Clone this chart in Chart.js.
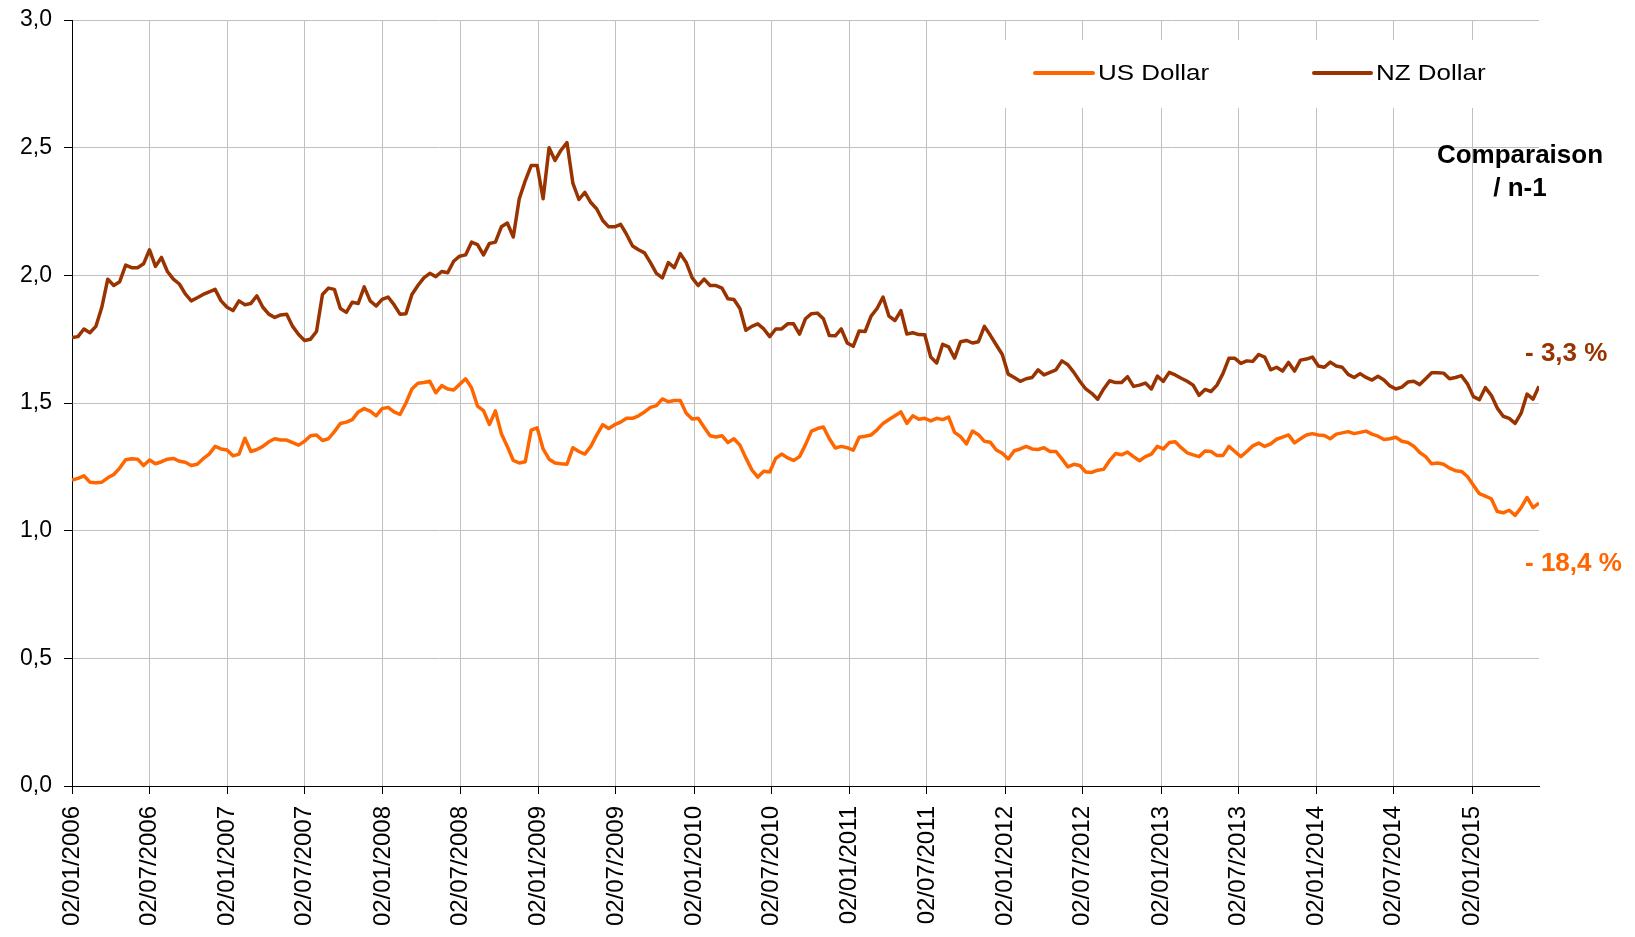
<!DOCTYPE html>
<html>
<head>
<meta charset="utf-8">
<script src="https://cdn.jsdelivr.net/npm/chart.js@4.4.1/dist/chart.umd.min.js"></script>
<style>
  html, body { margin: 0; padding: 0; background: #ffffff; }
  #wrap { width: 1635px; height: 937px; }
</style>
</head>
<body>
<div id="wrap"><canvas id="c" width="1635" height="937"></canvas></div>
<script>
// ---- categories (dates) ----
const startDate = '02/01/2006';     // first observation (dd/mm/yyyy)
const stepDays = 14;                // spacing between observations

// ---- x tick labels ----
const tickLabels = [
  '02/01/2006','02/07/2006','02/01/2007','02/07/2007','02/01/2008','02/07/2008',
  '02/01/2009','02/07/2009','02/01/2010','02/07/2010','02/01/2011','02/07/2011',
  '02/01/2012','02/07/2012','02/01/2013','02/07/2013','02/01/2014','02/07/2014',
  '02/01/2015'
];

// ---- y tick values ----
const yTicks = [0, 0.5, 1.0, 1.5, 2.0, 2.5, 3.0];

// ---- series ----
const usDollar = [
  1.198, 1.205, 1.215, 1.19, 1.188, 1.19, 1.207, 1.22, 1.245, 1.278,
  1.282, 1.28, 1.255, 1.277, 1.262, 1.27, 1.28, 1.283, 1.272, 1.268,
  1.255, 1.26, 1.282, 1.30, 1.33, 1.32, 1.316, 1.293, 1.30, 1.362,
  1.31, 1.318, 1.33, 1.348, 1.36, 1.355, 1.355, 1.345, 1.335, 1.35,
  1.372, 1.375, 1.353, 1.36, 1.388, 1.42, 1.425, 1.435, 1.465, 1.478,
  1.468, 1.45,
  1.478, 1.483, 1.465, 1.455, 1.50, 1.555, 1.577, 1.58, 1.585, 1.54,
  1.568, 1.555, 1.551, 1.573, 1.595, 1.56, 1.488, 1.47, 1.416, 1.469,
  1.38, 1.33, 1.275, 1.265, 1.27, 1.394, 1.403, 1.32, 1.28, 1.265,
  1.262, 1.26, 1.325, 1.31, 1.30, 1.33, 1.375, 1.415, 1.40, 1.415,
  1.425, 1.44, 1.44, 1.45, 1.465, 1.483, 1.49, 1.516, 1.505, 1.51,
  1.51, 1.46, 1.437, 1.44, 1.405, 1.372, 1.367, 1.372, 1.345, 1.36,
  1.335, 1.285, 1.238, 1.21, 1.233, 1.23, 1.283, 1.30, 1.285, 1.275,
  1.29, 1.337, 1.39, 1.40, 1.406, 1.36, 1.324, 1.33, 1.325, 1.315,
  1.366, 1.37, 1.375, 1.395, 1.42, 1.435, 1.45, 1.465, 1.42, 1.45,
  1.436, 1.44, 1.43, 1.44, 1.435, 1.445, 1.385, 1.368, 1.34, 1.39,
  1.376, 1.35, 1.346, 1.316, 1.303, 1.281, 1.313, 1.32, 1.33, 1.32,
  1.318, 1.325, 1.31, 1.31, 1.281, 1.25, 1.26, 1.255, 1.23, 1.228,
  1.237, 1.24, 1.275, 1.302, 1.297, 1.308, 1.29, 1.274, 1.29, 1.30,
  1.33, 1.32, 1.345, 1.348, 1.325, 1.305, 1.297, 1.29, 1.312, 1.31,
  1.294, 1.294, 1.33, 1.31, 1.29, 1.31, 1.332, 1.343, 1.33, 1.34,
  1.358,
  1.366, 1.375, 1.344, 1.36, 1.375, 1.38, 1.375, 1.373, 1.36, 1.378,
  1.383, 1.388, 1.38, 1.385, 1.39, 1.378, 1.37, 1.357, 1.36, 1.366,
  1.35, 1.345, 1.331, 1.306, 1.29, 1.262, 1.265, 1.26, 1.245, 1.235,
  1.232, 1.212, 1.178, 1.145, 1.135, 1.125, 1.075, 1.07, 1.08, 1.06,
  1.09, 1.13, 1.09, 1.108
];

const nzDollar = [
  1.756, 1.76, 1.79, 1.775, 1.80, 1.875, 1.985, 1.96, 1.975, 2.04,
  2.03, 2.03, 2.045, 2.10, 2.035, 2.07, 2.015, 1.985, 1.966, 1.927,
  1.90, 1.912, 1.925, 1.935, 1.945, 1.90, 1.875, 1.862, 1.90, 1.885,
  1.89, 1.92, 1.875, 1.848, 1.835, 1.845, 1.848, 1.80, 1.768, 1.745,
  1.75, 1.78, 1.925, 1.95, 1.945, 1.87, 1.855, 1.895, 1.89, 1.955,
  1.90, 1.88,
  1.906, 1.915, 1.885, 1.848, 1.85, 1.925, 1.96, 1.99, 2.008, 1.995,
  2.015, 2.01, 2.055, 2.075, 2.08, 2.13, 2.12, 2.08, 2.125, 2.13,
  2.19, 2.205, 2.15, 2.30, 2.37, 2.43, 2.43, 2.30, 2.50, 2.45,
  2.49, 2.52, 2.36, 2.297, 2.325, 2.285, 2.26, 2.215, 2.19, 2.19,
  2.20, 2.16, 2.115, 2.10, 2.088, 2.05, 2.008, 1.99, 2.05, 2.03,
  2.085, 2.05, 1.99, 1.96, 1.985, 1.96, 1.96, 1.95, 1.908, 1.905,
  1.87, 1.785, 1.80, 1.81, 1.79, 1.76, 1.79, 1.79, 1.81, 1.81,
  1.77, 1.83, 1.85, 1.852, 1.83, 1.764, 1.763, 1.79, 1.735, 1.722,
  1.782, 1.78, 1.84, 1.87, 1.915, 1.84, 1.823, 1.862, 1.77, 1.775,
  1.768, 1.767, 1.68, 1.657, 1.73, 1.72, 1.676, 1.74, 1.745, 1.735,
  1.74, 1.80, 1.765, 1.727, 1.69, 1.613, 1.60, 1.585, 1.595, 1.60,
  1.63, 1.61, 1.62, 1.63, 1.665, 1.65, 1.62, 1.585, 1.555, 1.538,
  1.515, 1.555, 1.587, 1.58, 1.58, 1.603, 1.565, 1.57, 1.578, 1.555,
  1.605, 1.585, 1.62, 1.61, 1.597, 1.585, 1.57, 1.53, 1.553, 1.545,
  1.57, 1.615, 1.675, 1.675, 1.655, 1.665, 1.663, 1.69, 1.68, 1.63,
  1.64,
  1.625, 1.659, 1.625, 1.668, 1.672, 1.68, 1.645, 1.64, 1.66, 1.645,
  1.64, 1.612, 1.60, 1.615, 1.60, 1.59, 1.605, 1.59, 1.567, 1.555,
  1.562, 1.582, 1.585, 1.572, 1.595, 1.618, 1.618, 1.617, 1.595, 1.60,
  1.607, 1.575, 1.525, 1.513, 1.56, 1.53, 1.48, 1.448, 1.44, 1.42,
  1.46, 1.535, 1.515, 1.566
];

// ---- annotation texts ----
const seriesNames = ['US Dollar', 'NZ Dollar'];
const seriesColors = ['#FF6600', '#993300'];
const comparisonTitle = ['Comparaison', '/ n-1'];
const comparisonValues = ['- 18,4 %', '- 3,3 %'];

// ---- helpers ----
function parseDay(label) {
  const p = label.split('/').map(Number);
  return Date.UTC(p[2], p[1] - 1, p[0]);
}
const t0 = parseDay(startDate);
function dayOffset(label) { return (parseDay(label) - t0) / 86400000; }
const tickDays = tickLabels.map(dayOffset);
function toPoints(arr) { return arr.map((v, i) => ({ x: i * stepDays, y: v })); }
const lastDay = (usDollar.length - 1) * stepDays;

const decorPlugin = {
  id: 'decor',
  beforeDatasetsDraw(chart) {
    const ctx = chart.ctx, ca = chart.chartArea;
    ctx.save();
    ctx.fillStyle = '#ffffff';
    ctx.fillRect(985, 40, ca.right - 985 + 1, 68);
    ctx.restore();
  },
  afterDraw(chart) {
    const ctx = chart.ctx;
    ctx.save();
    // legend
    const items = [
      { x0: 1035, x1: 1093, tx: 1098 },
      { x0: 1314, x1: 1371, tx: 1376 }
    ];
    const ly = 73;
    items.forEach((it, k) => {
      const ds = chart.data.datasets[k];
      ctx.strokeStyle = ds.borderColor;
      ctx.lineWidth = 4;
      ctx.lineCap = 'round';
      ctx.beginPath();
      ctx.moveTo(it.x0, ly);
      ctx.lineTo(it.x1, ly);
      ctx.stroke();
      ctx.save();
      ctx.translate(it.tx, ly + 1);
      ctx.scale(1.18, 1);
      ctx.fillStyle = '#000000';
      ctx.font = '22px "Liberation Sans", Arial, sans-serif';
      ctx.textBaseline = 'middle';
      ctx.textAlign = 'left';
      ctx.fillText(ds.label, 0, 0);
      ctx.restore();
    });
    // comparison block
    ctx.font = 'bold 26px "Liberation Sans", Arial, sans-serif';
    ctx.textBaseline = 'middle';
    ctx.textAlign = 'center';
    ctx.fillStyle = '#000000';
    ctx.fillText(comparisonTitle[0], 1520, 156);
    ctx.fillText(comparisonTitle[1], 1520, 189);
    ctx.textAlign = 'left';
    ctx.fillStyle = seriesColors[1];
    ctx.fillText(comparisonValues[1], 1525, 354);
    ctx.fillStyle = seriesColors[0];
    ctx.fillText(comparisonValues[0], 1525, 564);
    ctx.restore();
  }
};

new Chart(document.getElementById('c'), {
  type: 'line',
  data: {
    datasets: [
      { label: seriesNames[0], data: toPoints(usDollar), borderColor: seriesColors[0],
        backgroundColor: seriesColors[0], borderWidth: 3.5, pointRadius: 0, tension: 0, fill: false,
        borderJoinStyle: 'round' },
      { label: seriesNames[1], data: toPoints(nzDollar), borderColor: seriesColors[1],
        backgroundColor: seriesColors[1], borderWidth: 3.5, pointRadius: 0, tension: 0, fill: false,
        borderJoinStyle: 'round' }
    ]
  },
  options: {
    responsive: false,
    animation: false,
    devicePixelRatio: 1,
    layout: { padding: { left: 0, right: 96, top: 20, bottom: 0 } },
    plugins: { legend: { display: false }, tooltip: { enabled: false } },
    scales: {
      x: {
        type: 'linear',
        min: 0,
        max: lastDay,
        afterBuildTicks: (axis) => { axis.ticks = tickDays.map(v => ({ value: v })); },
        afterFit: (s) => { s.height = 151; s.paddingTop = 0; s.paddingBottom = 0; },
        ticks: {
          autoSkip: false,
          minRotation: 90,
          maxRotation: 90,
          padding: 12,
          color: '#000000',
          font: { family: '"Liberation Sans", Arial, sans-serif', size: 24 },
          callback: (v, i) => tickLabels[i]
        },
        grid: { color: '#C0C0C0', lineWidth: 1, tickColor: '#000000', tickLength: 8, drawTicks: true },
        border: { color: '#000000', width: 1 }
      },
      y: {
        min: yTicks[0],
        max: yTicks[yTicks.length - 1],
        afterBuildTicks: (axis) => { axis.ticks = yTicks.map(v => ({ value: v })); },
        afterFit: (s) => { s.width = 72; s.paddingTop = 0; s.paddingBottom = 0; },
        ticks: {
          padding: 12,
          color: '#000000',
          font: { family: '"Liberation Sans", Arial, sans-serif', size: 23 },
          callback: (v) => Number(v).toFixed(1).replace('.', ',')
        },
        grid: { color: '#C0C0C0', lineWidth: 1, tickColor: '#000000', tickLength: 8, drawTicks: true },
        border: { color: '#000000', width: 1 }
      }
    }
  },
  plugins: [decorPlugin]
});
</script>
</body>
</html>
